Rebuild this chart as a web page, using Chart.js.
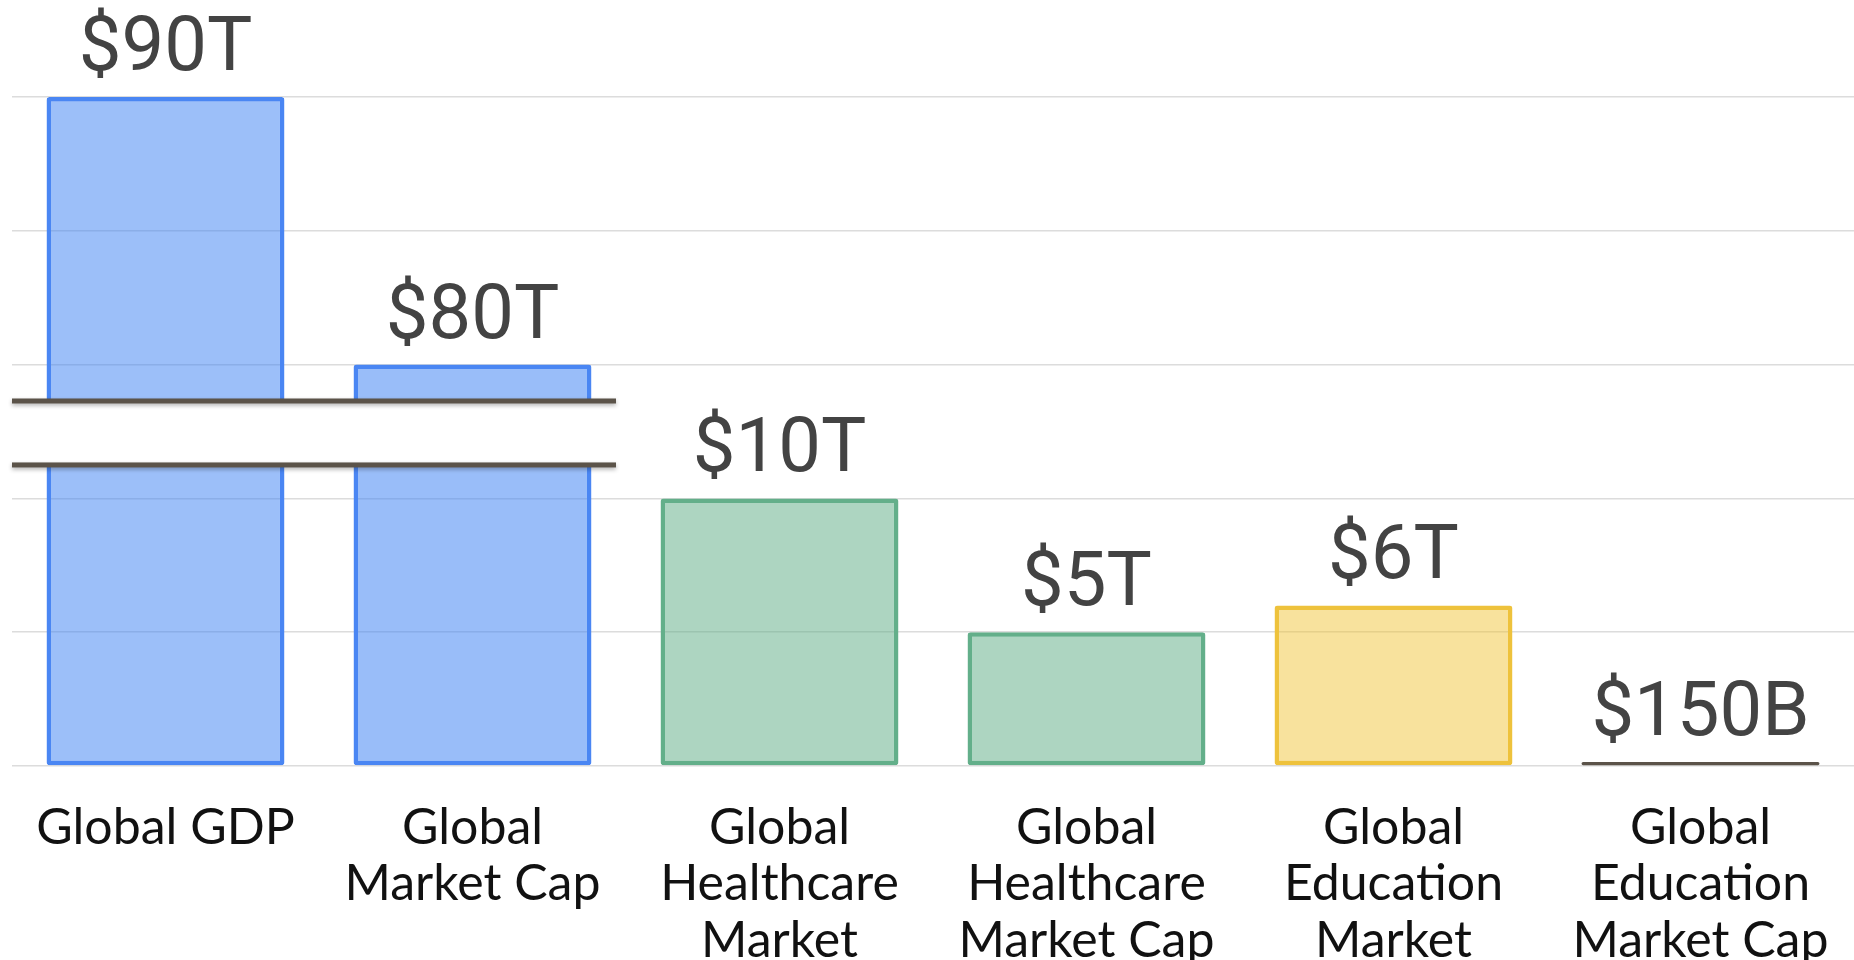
<!DOCTYPE html>
<html>
<head>
<meta charset="utf-8">
<script src="https://cdn.jsdelivr.net/npm/chart.js@4/dist/chart.umd.min.js"></script>
<style>
  html, body { margin: 0; padding: 0; background: #ffffff; overflow: hidden; }
  canvas { display: block; }
</style>
</head>
<body>
<canvas id="c" width="1854" height="960"></canvas>
<script>
// ---- data ----
const categories = [
  ["Global GDP"],
  ["Global", "Market Cap"],
  ["Global", "Healthcare", "Market"],
  ["Global", "Healthcare", "Market Cap"],
  ["Global", "Education", "Market"],
  ["Global", "Education", "Market Cap"]
];
const valuesTrillions = [90, 80, 10, 5, 6, 0.15];
const valueLabels = ["$90T", "$80T", "$10T", "$5T", "$6T", "$150B"];
const fillColors = ["rgba(66,133,244,0.52)", "rgba(66,133,244,0.54)", "rgba(97,174,136,0.52)", "rgba(97,174,136,0.52)", "rgba(240,194,50,0.48)", "#5b5349"];
const borderColors = ["#4a86f3", "#4a86f3", "#63af8a", "#63af8a", "#eec23c", "#5b5349"];
const borderWidths = [4.5, 4.5, 4.5, 4.5, 4.5, 0];

// axis break: values between breakFrom and breakTo are squeezed into a small gap
const breakFrom = 11.25;      // trillions, where the lower segment ends
const breakTo = 78.64;        // trillions, where the upper segment starts
const breakGap = 2.39;        // height of the gap in axis units
const breakCategories = 2;    // break marks span the first two categories
const yTicks = [0, 5, 10, 15, 20, 25];

function toAxis(v) {
  if (v <= breakFrom) return v;
  return v - (breakTo - breakFrom) + breakGap;
}
const plotted = valuesTrillions.map(toAxis);

const valueLabelPlugin = {
  id: 'valueLabels',
  afterDatasetsDraw(chart) {
    const ctx = chart.ctx;
    const meta = chart.getDatasetMeta(0);
    const x = chart.scales.x, y = chart.scales.y;
    // axis break band
    const yTop = y.getPixelForValue(breakFrom + breakGap);
    const yBot = y.getPixelForValue(breakFrom);
    const left = chart.chartArea.left;
    const catW = (x.getPixelForValue(1) - x.getPixelForValue(0));
    const right = left + catW * breakCategories - 10;
    ctx.save();
    ctx.fillStyle = '#ffffff';
    ctx.fillRect(left, yTop, right - left, yBot - yTop);
    ctx.shadowColor = 'rgba(0,0,0,0.3)';
    ctx.shadowBlur = 4;
    ctx.shadowOffsetY = 2;
    ctx.fillStyle = '#5b5349';
    ctx.fillRect(left, yTop - 2.5, right - left, 5);
    ctx.fillRect(left, yBot - 2.5, right - left, 5);
    ctx.restore();
    // value labels
    ctx.save();
    ctx.font = '76px Roboto';
    ctx.fillStyle = '#434343';
    ctx.textAlign = 'center';
    ctx.textBaseline = 'alphabetic';
    meta.data.forEach((bar, i) => {
      ctx.fillText(valueLabels[i], bar.x, bar.y - 27);
    });
    ctx.restore();
  }
};

new Chart(document.getElementById('c'), {
  type: 'bar',
  data: {
    labels: categories,
    datasets: [{
      data: plotted,
      backgroundColor: fillColors,
      borderColor: borderColors,
      borderWidth: borderWidths,
      borderSkipped: false,
      borderRadius: 3,
      barPercentage: 0.775,
      categoryPercentage: 1.0
    }]
  },
  options: {
    responsive: false,
    animation: false,
    layout: { padding: { top: 97, left: 12, right: 0, bottom: 0 } },
    plugins: { legend: { display: false }, tooltip: { enabled: false } },
    scales: {
      x: {
        grid: { display: false },
        border: { display: false },
        ticks: {
          color: '#111111',
          font: { family: 'Lato', size: 50, lineHeight: 1.135 },
          padding: 25,
          maxRotation: 0,
          autoSkip: false
        },
        afterFit(scale) { scale.height = 194; }
      },
      y: {
        min: 0, max: 25,
        afterBuildTicks(scale) { scale.ticks = yTicks.map(v => ({ value: v })); },
        ticks: { display: false, padding: 0 },
        grid: { color: '#dcdcdc', lineWidth: 1.5, drawTicks: false },
        border: { display: false },
        afterFit(scale) { scale.width = 0; }
      }
    }
  },
  plugins: [valueLabelPlugin]
});
</script>
</body>
</html>
